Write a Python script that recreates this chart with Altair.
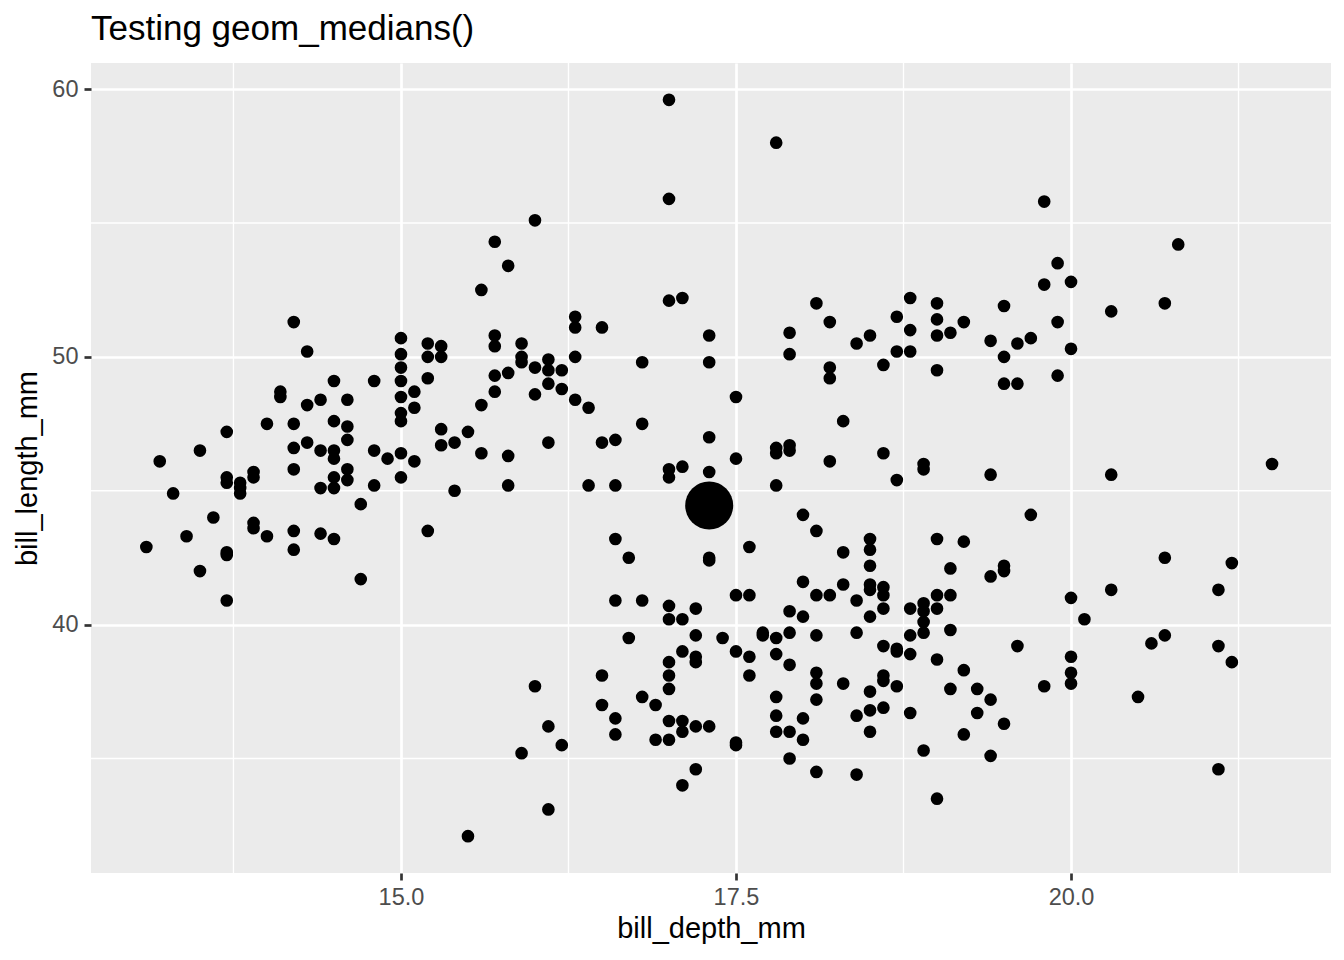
import altair as alt
import pandas as pd

title_text = "Testing geom_medians()"
x_title = "bill_depth_mm"
y_title = "bill_length_mm"

# bill depth columns (0.1 mm grid) and the bill lengths read at each column
depth_values = [
    13.1, 13.2, 13.3, 13.4, 13.5, 13.6, 13.7, 13.8, 13.9, 14.0,
    14.1, 14.2, 14.3, 14.4, 14.5, 14.6, 14.7, 14.8, 14.9, 15.0,
    15.1, 15.2, 15.3, 15.4, 15.5, 15.6, 15.7, 15.8, 15.9, 16.0,
    16.1, 16.2, 16.3, 16.4, 16.5, 16.6, 16.7, 16.8, 16.9, 17.0,
    17.1, 17.2, 17.3, 17.4, 17.5, 17.6, 17.7, 17.8, 17.9, 18.0,
    18.1, 18.2, 18.3, 18.4, 18.5, 18.6, 18.7, 18.8, 18.9, 19.0,
    19.1, 19.2, 19.3, 19.4, 19.5, 19.6, 19.7, 19.8, 19.9, 20.0,
    20.1, 20.3, 20.5, 20.6, 20.7, 20.8, 21.1, 21.2, 21.5,
]
lengths_by_depth = [
    [42.9], [46.1], [44.9], [43.3], [46.5, 42.0], [44.0],
    [47.2, 45.5, 45.3, 42.7, 42.6, 40.9],
    [45.3, 45.1, 44.9],
    [45.7, 45.5, 43.8, 43.6],
    [47.5, 43.3],
    [48.7, 48.5],
    [51.3, 47.5, 46.6, 45.8, 43.5, 42.8],
    [50.2, 48.2, 46.8],
    [48.4, 46.5, 45.1, 43.4],
    [49.1, 47.6, 46.5, 46.2, 45.5, 45.1, 43.2],
    [48.4, 47.4, 46.9, 45.8, 45.4],
    [44.5, 41.7],
    [49.1, 46.5, 45.2],
    [46.2],
    [50.7, 50.1, 49.6, 49.1, 48.5, 47.9, 47.6, 46.4, 45.5],
    [48.7, 48.1, 46.1],
    [50.5, 50.0, 49.2, 43.5],
    [50.4, 50.0, 47.3, 46.7],
    [46.8, 45.0],
    [47.2, 32.1],
    [52.5, 48.2, 46.4],
    [54.3, 50.8, 50.4, 49.3, 48.7],
    [53.4, 49.4, 46.3, 45.2],
    [50.5, 50.0, 49.8, 35.2],
    [55.1, 49.6, 48.6, 37.7],
    [49.9, 49.5, 49.0, 46.8, 36.2, 33.1],
    [49.5, 48.8, 35.5],
    [51.5, 51.1, 50.0, 48.4],
    [48.1, 45.2],
    [51.1, 46.8, 38.1, 37.0],
    [46.9, 45.2, 43.2, 40.9, 36.5, 35.9],
    [42.5, 39.5],
    [49.8, 47.5, 40.9, 37.3],
    [37.0, 35.7],
    [59.6, 55.9, 52.1, 45.8, 45.5, 40.7, 40.2, 38.6, 38.1, 37.6, 36.4, 35.7],
    [52.2, 45.9, 40.2, 39.0, 36.4, 36.0, 34.0],
    [40.6, 39.6, 38.8, 38.6, 36.2, 34.6],
    [50.8, 49.8, 47.0, 45.7, 42.5, 42.4, 36.2],
    [39.5],
    [48.5, 46.2, 41.1, 39.0, 35.6, 35.5],
    [42.9, 41.1, 38.8, 38.1],
    [39.7, 39.6],
    [58.0, 46.6, 46.4, 45.2, 39.5, 38.9, 37.3, 36.6, 36.0],
    [50.9, 50.1, 46.7, 46.5, 40.5, 39.7, 38.5, 36.0, 35.0],
    [44.1, 41.6, 40.3, 36.5, 35.7],
    [52.0, 43.5, 41.1, 39.6, 38.2, 37.8, 37.2, 34.5],
    [51.3, 49.6, 49.2, 46.1, 41.1],
    [47.6, 42.7, 41.5, 37.8],
    [50.5, 40.9, 39.7, 36.6, 34.4],
    [50.8, 43.2, 42.8, 42.2, 41.5, 41.3, 40.3, 37.5, 36.8, 36.0],
    [49.7, 46.4, 41.4, 41.1, 40.6, 39.2, 38.1, 37.9, 36.9],
    [51.5, 50.2, 45.4, 39.1, 39.0, 37.7],
    [52.2, 51.0, 50.2, 40.6, 39.6, 38.9, 36.7],
    [46.0, 45.8, 40.8, 40.5, 40.1, 39.7, 35.3],
    [52.0, 51.4, 50.8, 49.5, 43.2, 41.1, 40.6, 38.7, 33.5],
    [50.9, 42.1, 41.1, 39.8, 37.6],
    [51.3, 43.1, 38.3, 35.9],
    [37.6, 36.7],
    [50.6, 45.6, 41.8, 37.2, 35.1],
    [51.9, 50.0, 49.0, 42.2, 42.0, 36.3],
    [50.5, 49.0, 39.2],
    [50.7, 44.1],
    [55.8, 52.7, 37.7],
    [53.5, 51.3, 49.3],
    [52.8, 50.3, 41.0, 38.8, 38.2, 37.8],
    [40.2],
    [51.7, 45.6, 41.3],
    [37.3],
    [39.3],
    [52.0, 42.5, 39.6],
    [54.2],
    [41.3, 39.2, 34.6],
    [42.3, 38.6],
    [46.0],
]

median_depth = [17.3]
median_length = [44.45]

x_ticks = [15.0, 17.5, 20.0]
y_ticks = [40, 50, 60]
x_minor = [13.75, 16.25, 18.75, 21.25]
y_minor = [35, 45, 55]
x_domain = [12.687, 21.94]
y_domain = [30.725, 60.975]

rows = []
for d, ls in zip(depth_values, lengths_by_depth):
    for l in ls:
        rows.append({"bill_depth_mm": d, "bill_length_mm": l})
points_df = pd.DataFrame(rows)
median_df = pd.DataFrame({"bill_depth_mm": median_depth, "bill_length_mm": median_length})
xminor_df = pd.DataFrame({"bill_depth_mm": x_minor})
yminor_df = pd.DataFrame({"bill_length_mm": y_minor})

FONT = "Liberation Sans"
xs = alt.Scale(domain=x_domain, nice=False, zero=False)
ys = alt.Scale(domain=y_domain, nice=False, zero=False)

x_axis = alt.Axis(
    values=x_ticks, format=".1f", grid=True, gridColor="white", gridWidth=2.7,
    domain=False, ticks=True, tickColor="#333333", tickWidth=2.7, tickSize=7,
    labelFont=FONT, labelFontSize=23.5, labelColor="#4D4D4D", labelPadding=5,
    labelFlush=False, labelOverlap=False,
    title=x_title, titleFont=FONT, titleFontSize=29, titleFontWeight="normal",
    titleColor="black", titleX=620, titleY=55, titleBaseline="middle", titleAlign="center",
)
y_axis = alt.Axis(
    values=y_ticks, format="d", grid=True, gridColor="white", gridWidth=2.7,
    domain=False, ticks=True, tickColor="#333333", tickWidth=2.7, tickSize=7,
    labelFont=FONT, labelFontSize=23.5, labelColor="#4D4D4D", labelPadding=6,
    labelFlush=False, labelOverlap=False, labelBaseline="middle",
    title=y_title, titleFont=FONT, titleFontSize=29, titleFontWeight="normal",
    titleColor="black", titleAngle=270, titleX=-64, titleY=405,
    titleBaseline="middle", titleAlign="center",
)

X = alt.X("bill_depth_mm:Q", scale=xs, axis=x_axis)
Y = alt.Y("bill_length_mm:Q", scale=ys, axis=y_axis)

vminor = alt.Chart(xminor_df).mark_rule(color="white", strokeWidth=1.35).encode(x=X)
hminor = alt.Chart(yminor_df).mark_rule(color="white", strokeWidth=1.35).encode(y=Y)
pts = alt.Chart(points_df).mark_circle(size=160, color="black", opacity=1).encode(x=X, y=Y)
med = alt.Chart(median_df).mark_circle(size=2304, color="black", opacity=1).encode(x=X, y=Y)

chart = alt.layer(vminor, hminor, pts, med).properties(
    width=1240, height=810,
    autosize=alt.AutoSizeParams(type="none"),
    padding={"left": 83, "top": 55, "right": 5, "bottom": 79},
    title=alt.TitleParams(
        text=title_text, anchor="start", frame="group", font=FONT, fontSize=35,
        fontWeight="normal", color="black", baseline="alphabetic", offset=23, dy=36,
    ),
).configure_view(fill="#EBEBEB", strokeWidth=0)

chart.save("out.html", embed_options={"renderer": "svg", "actions": False})
